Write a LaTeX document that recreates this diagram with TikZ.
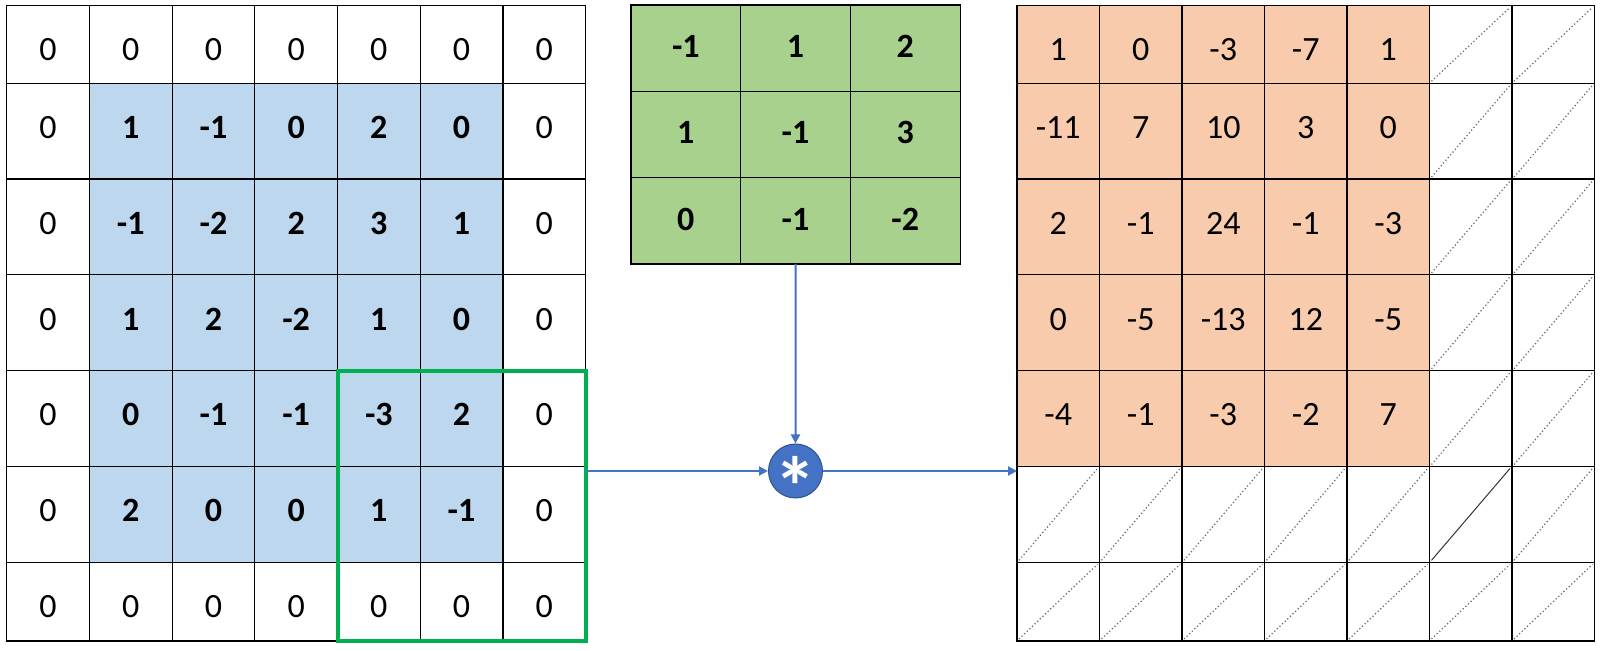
\documentclass[tikz,border=0pt]{standalone}
\usepackage{fontspec}
\setmainfont{Carlito}
\usetikzlibrary{arrows.meta,calc,fit}
\definecolor{inblue}{HTML}{BDD7EE}
\definecolor{kgreen}{HTML}{A9D18E}
\definecolor{outorange}{HTML}{F8CBAD}
\definecolor{wingreen}{HTML}{00B050}
\definecolor{arrowblue}{HTML}{4472C4}
\definecolor{circborder}{HTML}{2F528F}
\tikzset{
  cell/.style={draw=black, line width=0.6pt, inner sep=0pt, outer sep=0pt,
    anchor=north west, font=\fontsize{17}{20}\selectfont, text depth=0pt},
  diag/.style={draw=black!60, line width=0.6pt, dash pattern=on 0.6pt off 1.2pt},
  diagsolid/.style={draw=black!80, line width=0.5pt},
  conn/.style={draw=arrowblue, line width=1pt, -{Triangle[length=4.5pt,width=4.5pt]}},
  window/.style={draw=wingreen, line width=2pt, inner sep=0pt, outer sep=0pt},
  convnode/.style={circle, fill=arrowblue, draw=circborder, line width=0.5pt,
    minimum size=27pt, inner sep=0pt}
}
\begin{document}
\begin{tikzpicture}[x=0.5pt, y=-0.5pt]
\useasboundingbox (0,0) rectangle (1606,651);
% ---------- input grid ----------
\foreach \r/\ya/\yb/\vals in {
  1/5.3/83.3/{0,0,0,0,0,0,0},
  2/83.3/179.1/{0,1,-1,0,2,0,0},
  3/179.1/274.9/{0,-1,-2,2,3,1,0},
  4/274.9/370.7/{0,1,2,-2,1,0,0},
  5/370.7/466.5/{0,0,-1,-1,-3,2,0},
  6/466.5/562.3/{0,2,0,0,1,-1,0},
  7/562.3/641/{0,0,0,0,0,0,0}} {
  \pgfmathsetmacro\hh{(\yb-\ya)*0.5}
  \pgfmathsetmacro\th{55.3-\hh}
  \foreach \v [count=\c] in \vals {
    \pgfmathsetmacro\xx{6.7+(\c-1)*82.7}
    \pgfmathtruncatemacro\inner{and(and(\r>1,\r<7),and(\c>1,\c<7))}
    \ifnum\inner=1 \def\cf{inblue}\def\ff{\bfseries}\else\def\cf{white}\def\ff{}\fi
    \node[cell, fill=\cf, minimum width=41.35pt, minimum height=\hh pt, text height=\th pt] (in-\r-\c) at (\xx,\ya) {\ff\v};
  }
}
% sliding window
\node[window, fit=(in-5-5)(in-7-7)] (win) {};
% ---------- kernel ----------
\foreach \r/\ya/\vals in {
  1/5/{-1,1,2},
  2/91.3/{1,-1,3},
  3/177.7/{0,-1,-2}} {
  \foreach \v [count=\c] in \vals {
    \pgfmathsetmacro\xx{631+(\c-1)*109.7}
    \node[cell, fill=kgreen, minimum width=54.85pt, minimum height=43.15pt, text height=9.3pt] (k-\r-\c) at (\xx,\ya) {\bfseries\v};
  }
}
% ---------- output grid ----------
\foreach \r/\ya/\yb/\vals in {
  1/5.3/83.3/{1,0,-3,-7,1},
  2/83.3/179.1/{-11,7,10,3,0},
  3/179.1/274.9/{2,-1,24,-1,-3},
  4/274.9/370.7/{0,-5,-13,12,-5},
  5/370.7/466.5/{-4,-1,-3,-2,7}} {
  \pgfmathsetmacro\hh{(\yb-\ya)*0.5}
  \pgfmathsetmacro\th{55.3-\hh}
  \foreach \v [count=\c] in \vals {
    \pgfmathsetmacro\xx{1017+(\c-1)*82.5}
    \node[cell, fill=outorange, minimum width=41.25pt, minimum height=\hh pt, text height=\th pt] (out-\r-\c) at (\xx,\ya) {\v};
  }
}
\foreach \r/\ya/\yb in {1/5.3/83.3, 2/83.3/179.1, 3/179.1/274.9, 4/274.9/370.7,
  5/370.7/466.5, 6/466.5/562.3, 7/562.3/641} {
  \pgfmathsetmacro\hh{(\yb-\ya)*0.5}
  \foreach \c in {1,...,7} {
    \pgfmathtruncatemacro\empt{or(\r>5,\c>5)}
    \ifnum\empt=1
      \pgfmathsetmacro\xx{1017+(\c-1)*82.5}
      \node[cell, fill=white, minimum width=41.25pt, minimum height=\hh pt] (out-\r-\c) at (\xx,\ya) {};
    \fi
  }
}
% diagonals of the empty output cells
\foreach \r in {1,...,7} {
  \foreach \c in {1,...,7} {
    \pgfmathtruncatemacro\empt{or(\r>5,\c>5)}
    \pgfmathtruncatemacro\issolid{and(\r==6,\c==6)}
    \ifnum\empt=1
      \ifnum\issolid=1
        \draw[diagsolid] ([shift={(2,-2)}]out-\r-\c.south west) -- ([shift={(-2,2)}]out-\r-\c.north east);
      \else
        \draw[diag] ([shift={(2,-2)}]out-\r-\c.south west) -- ([shift={(-2,2)}]out-\r-\c.north east);
      \fi
    \fi
  }
}
% ---------- convolution operator and connectors ----------
\node[convnode] (conv) at (795.5,471) {};
\node[anchor=base, text=white, inner sep=0pt, font=\fontsize{42}{42}\selectfont\bfseries] (star) at ([yshift=-23pt]conv.center) {*};
\draw[conn] (conv -| win.east) -- (conv.west);
\draw[conn] (k-3-2.south) -- (conv.north);
\draw[conn] (conv.east) -- (conv -| out-6-1.west);
\end{tikzpicture}
\end{document}
